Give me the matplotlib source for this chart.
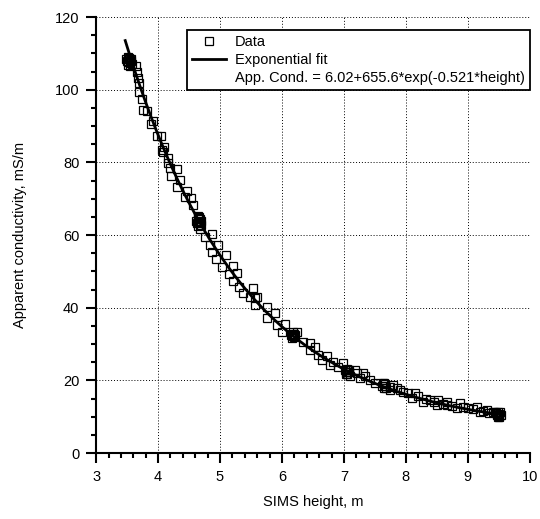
import numpy as np
import matplotlib
matplotlib.use('Agg')
import matplotlib.pyplot as plt
from matplotlib.lines import Line2D
from matplotlib.ticker import MultipleLocator

plt.rcParams['font.family'] = ['Liberation Sans', 'DejaVu Sans']

# SIMS height (m) and apparent conductivity (mS/m)
height = [3.48, 3.50, 3.51, 3.52, 3.53, 3.54, 3.55, 3.56, 3.57, 3.58, 3.52, 3.55,
          3.65, 3.66, 3.67, 3.69, 3.70,
          3.74, 3.76, 3.82, 3.88, 3.92, 3.98, 4.04, 4.06, 4.08, 4.09, 4.16, 4.16,
          4.19, 4.21, 4.30, 4.30, 4.35, 4.44, 4.47, 4.53, 4.56, 4.65,
          4.62, 4.63, 4.65, 4.66, 4.67, 4.68, 4.64, 4.70, 4.66, 4.69,
          4.68, 4.76, 4.84, 4.87, 4.87, 4.94, 4.97, 5.03, 5.10, 5.15, 5.21, 5.21,
          5.27, 5.31, 5.37, 5.48, 5.53, 5.56, 5.56, 5.60, 5.76, 5.76, 5.89,
          5.92, 6.00, 6.05,
          6.15, 6.16, 6.18, 6.19, 6.20, 6.17, 6.21, 6.18,
          6.24, 6.34, 6.45, 6.45, 6.53, 6.58, 6.65, 6.73, 6.77, 6.82, 6.90, 6.98,
          7.02, 7.03, 7.05, 7.06, 7.07, 7.08, 7.04, 7.09, 7.05,
          7.10, 7.18, 7.21, 7.26, 7.31, 7.34, 7.42, 7.50,
          7.62, 7.63, 7.65, 7.66, 7.67, 7.68, 7.64,
          7.74, 7.74, 7.79, 7.85, 7.90, 7.95, 8.03, 8.10, 8.15, 8.20, 8.27, 8.33,
          8.39, 8.45, 8.50, 8.52, 8.60, 8.66, 8.66, 8.75, 8.82, 8.87, 8.93, 9.00,
          9.08, 9.15, 9.19, 9.25, 9.31, 9.35, 9.40,
          9.44, 9.45, 9.47, 9.48, 9.50, 9.50, 9.52, 9.49, 9.53, 9.51]
conductivity = [108.6, 108.0, 109.0, 107.6, 108.8, 108.2, 107.4, 108.6, 108.0, 107.2, 106.8, 106.6,
                106.5, 104.9, 103.2, 102.0, 99.4,
                97.4, 94.4, 94.1, 90.6, 91.4, 87.3, 87.3, 83.4, 82.8, 84.3, 81.2, 79.8,
                78.4, 76.2, 78.2, 73.2, 75.1, 70.5, 72.1, 70.2, 68.3, 65.2,
                64.0, 63.2, 64.6, 63.6, 64.4, 63.2, 62.6, 64.0, 65.0, 62.8,
                61.7, 59.5, 57.3, 60.3, 55.3, 53.4, 57.3, 51.2, 54.5, 49.3, 51.5, 47.3,
                49.5, 45.7, 44.0, 42.9, 45.4, 42.7, 40.7, 42.9, 40.2, 37.2, 38.5,
                35.2, 33.3, 35.5,
                32.6, 32.8, 32.3, 32.9, 32.0, 31.6, 32.6, 33.2,
                33.3, 30.6, 30.3, 28.4, 29.2, 27.0, 25.6, 26.7, 24.2, 25.0, 23.7, 24.8,
                22.8, 22.4, 23.1, 22.2, 22.8, 22.4, 21.8, 23.0, 21.8,
                21.2, 22.8, 22.0, 20.6, 22.0, 21.2, 20.1, 19.3,
                18.6, 19.2, 19.4, 18.4, 19.0, 18.0, 17.8,
                18.2, 17.3, 18.7, 17.9, 17.3, 16.8, 16.5, 15.1, 16.5, 15.6, 14.0, 14.9,
                14.6, 14.1, 13.2, 14.6, 13.6, 14.0, 13.2, 13.0, 12.4, 13.8, 12.8, 12.4,
                12.1, 12.7, 11.3, 11.6, 11.8, 11.0, 11.3,
                11.2, 11.0, 10.4, 11.4, 10.8, 10.2, 11.2, 10.0, 10.6, 9.8]

# exponential fit parameters (from the legend)
fit_a, fit_b, fit_c = 6.02, 655.6, -0.521
fit_label = 'App. Cond. = 6.02+655.6*exp(-0.521*height)'

fig = plt.figure(figsize=(5.4, 5.19), dpi=100)
ax = fig.add_axes([0.178, 0.127, 0.803, 0.840])

hh = np.linspace(3.47, 9.52, 300)
ax.plot(hh, fit_a + fit_b * np.exp(fit_c * hh), color='black', lw=2.0, zorder=3)
ax.plot(height, conductivity, linestyle='none', marker='s', markersize=5.5,
        markerfacecolor='none', markeredgecolor='black', markeredgewidth=0.9, zorder=4)

ax.set_xlim(3, 10)
ax.set_ylim(0, 120)
ax.xaxis.set_major_locator(MultipleLocator(1))
ax.xaxis.set_minor_locator(MultipleLocator(0.2))
ax.yaxis.set_major_locator(MultipleLocator(20))
ax.yaxis.set_minor_locator(MultipleLocator(5))
ax.tick_params(which='major', direction='out', length=7, width=1.5, labelsize=10.5, pad=5)
ax.tick_params(which='minor', direction='out', length=3.5, width=1.5)
ax.grid(True, which='major', color='black', linestyle=(0, (1, 2)), linewidth=0.7)
ax.set_axisbelow(True)

for side in ['top', 'right']:
    ax.spines[side].set_visible(False)
for side in ['left', 'bottom']:
    ax.spines[side].set_linewidth(1.5)

ax.set_xlabel('SIMS height, m', fontsize=10.5, labelpad=8)
ax.set_ylabel('Apparent conductivity, mS/m', fontsize=10.5, labelpad=20)

handles = [
    Line2D([], [], linestyle='none', marker='s', markersize=5.5, markerfacecolor='none',
           markeredgecolor='black', markeredgewidth=0.9),
    Line2D([], [], color='black', lw=2.0),
    Line2D([], [], linestyle='none'),
]
leg = ax.legend(handles, ['Data', 'Exponential fit', fit_label], loc='upper right',
                bbox_to_anchor=(1.0, 0.97), fontsize=10.5, frameon=True, fancybox=False,
                labelspacing=0.25, handlelength=2.3, handletextpad=0.6, borderpad=0.35,
                borderaxespad=0.0)
leg.get_frame().set_edgecolor('black')
leg.get_frame().set_linewidth(1.3)
leg.get_frame().set_alpha(1)

fig.savefig('out.png', dpi=100)
